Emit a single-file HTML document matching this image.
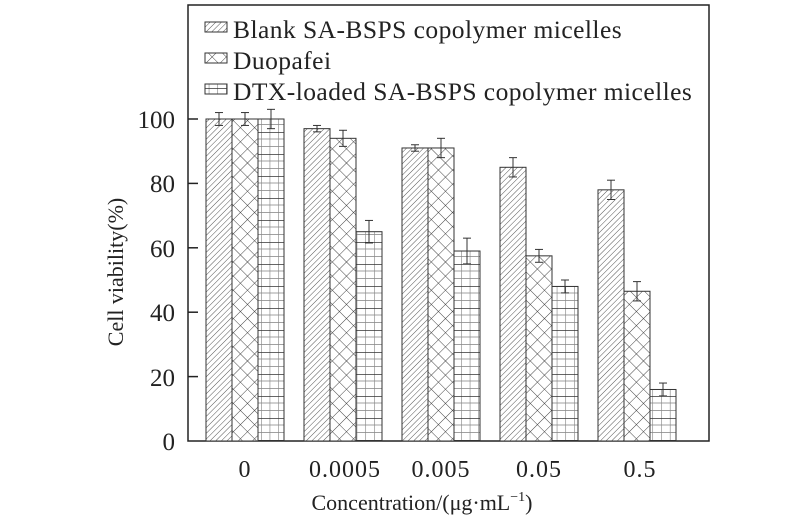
<!DOCTYPE html><html><head><style>body{margin:0;background:#fff}text{font-family:"Liberation Serif",serif;fill:#222}</style></head><body>
<svg width="800" height="524" xmlns="http://www.w3.org/2000/svg">
<defs>
<pattern id="d" width="4" height="4" patternUnits="userSpaceOnUse" patternTransform="rotate(45)"><rect width="4" height="4" fill="#fff"/><line x1="0" y1="0" x2="0" y2="4" stroke="#555" stroke-width="1"/></pattern>
<pattern id="x" width="10" height="10" patternUnits="userSpaceOnUse" patternTransform="rotate(45)"><rect width="10" height="10" fill="#fff"/><line x1="0" y1="0" x2="0" y2="10" stroke="#444" stroke-width="1"/><line x1="0" y1="0" x2="10" y2="0" stroke="#444" stroke-width="1"/></pattern>
<pattern id="g" width="8.7" height="22" patternUnits="userSpaceOnUse"><rect width="8.7" height="22" fill="#fff"/><line x1="0" y1="0" x2="0" y2="22" stroke="#666" stroke-width="1"/><line x1="0" y1="7" x2="9" y2="7" stroke="#888" stroke-width="0.8"/><line x1="0" y1="14.5" x2="9" y2="14.5" stroke="#888" stroke-width="0.8"/><line x1="0" y1="0" x2="9" y2="0" stroke="#333" stroke-width="1.5"/></pattern>
</defs>
<rect x="188" y="5" width="521" height="436" fill="none" stroke="#222" stroke-width="1.5"/>
<g stroke="#222" stroke-width="1.5">
<line x1="188" y1="119" x2="198" y2="119"/><line x1="188" y1="183.4" x2="198" y2="183.4"/><line x1="188" y1="247.8" x2="198" y2="247.8"/><line x1="188" y1="312.2" x2="198" y2="312.2"/><line x1="188" y1="376.6" x2="198" y2="376.6"/>
</g>
<g font-size="25" text-anchor="end">
<text x="175" y="128">100</text><text x="175" y="192">80</text><text x="175" y="257">60</text><text x="175" y="321">40</text><text x="175" y="386">20</text><text x="175" y="450">0</text>
</g>
<g font-size="24" text-anchor="middle">
<text x="245" y="477" letter-spacing="1">0</text><text x="345" y="477" letter-spacing="1">0.0005</text><text x="441" y="477" letter-spacing="1">0.005</text><text x="539" y="477" letter-spacing="1">0.05</text><text x="640" y="477" letter-spacing="1">0.5</text>
<text x="422" y="510" font-size="22">Concentration/(μg·mL<tspan dy="-9" font-size="14">−1</tspan><tspan dy="9">)</tspan></text>
<text transform="translate(123,272) rotate(-90)" font-size="22">Cell viability(%)</text>
</g>
<g id="bars" stroke="#333" stroke-width="1"></g>
<g font-size="25.5" letter-spacing="0.45">
<rect x="205" y="22" width="22" height="10" fill="url(#d)" stroke="#333"/><text x="233" y="38">Blank SA-BSPS copolymer micelles</text>
<rect x="205" y="53" width="22" height="10" fill="url(#x)" stroke="#333"/><text x="233" y="69">Duopafei</text>
<rect x="205" y="84" width="22" height="10" fill="url(#g)" stroke="#333"/><text x="233" y="100">DTX-loaded SA-BSPS copolymer micelles</text>
</g>
</svg>
<script>
var v=[[100,100,100],[97,94,65],[91,91,59],[85,57.5,48],[78,46.5,16]],e=[[2,2,3],[1,2.5,3.5],[1,3,4],[3,2,2],[3,3,2]],p=["d","x","g"],s="";
function Y(a){return 441-a*3.22}
for(var i=0;i<5;i++)for(var j=0;j<3;j++){var x=206+i*98+j*26,y=Y(v[i][j]);s+='<rect x="'+x+'" y="'+y+'" width="26" height="'+(441-y)+'" fill="url(#'+p[j]+')"/>';var cx=x+13,t=Y(v[i][j]+e[i][j]),b=Y(v[i][j]-e[i][j]);s+='<line x1="'+cx+'" y1="'+t+'" x2="'+cx+'" y2="'+b+'"/><line x1="'+(cx-4)+'" y1="'+t+'" x2="'+(cx+4)+'" y2="'+t+'"/><line x1="'+(cx-4)+'" y1="'+b+'" x2="'+(cx+4)+'" y2="'+b+'"/>';}
document.getElementById("bars").innerHTML=s;
</script>
</body></html>
